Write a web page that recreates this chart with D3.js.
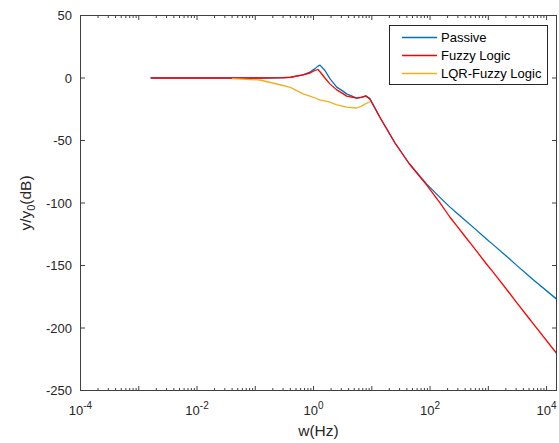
<!DOCTYPE html>
<html>
<head>
<meta charset="utf-8">
<script src="https://cdn.jsdelivr.net/npm/d3@7"></script>
<style>
  html, body { margin: 0; padding: 0; background: #fff; }
  svg { display: block; font-family: "Liberation Sans", Arial, sans-serif; }
</style>
</head>
<body>
<svg id="chart" width="559" height="443"></svg>
<script>
// Frequency grid (Hz) shared by the magnitude responses
const freqs = [0.0016, 0.04, 0.12, 0.3, 0.4, 0.66, 0.87, 1.06, 1.19, 1.29, 1.57, 1.91,
  2.5, 3.2, 3.7, 5.5, 6.7, 7.9, 9.3, 14, 25, 44, 87, 146, 220, 290, 390, 540, 930,
  1180, 2300, 3000, 5100, 5700, 14700];

// Magnitude ratio y/y0 in dB
const passive = [0, 0, 0, 0.2, 0.5, 2.5, 4.7, 7.5, 9.5, 10.3, 6, -0.5,
  -7.3, -10.5, -12.7, -16.1, -15.5, -14.5, -16.5, -32, -52, -68.6, -84.7, -95.3, -103.3, -108.2, -113.4, -119.1, -128.8,
  -132.9, -144.6, -149.5, -158.8, -160.8, -176.7];
const fuzzy = [0, 0, 0, 0.3, 0.6, 2.5, 4, 6, 6.8, 5, 0, -4.7,
  -9.5, -12.5, -14.5, -16.1, -15.3, -14.2, -17, -32, -52, -68.6, -85.5, -99.5, -111.4, -118.5, -126.2, -134.5, -148.8,
  -154.7, -172, -179.1, -192.8, -195.7, -220];
// LQR-Fuzzy response, defined from 0.04 Hz up to where it joins the fuzzy curve
const lqrFreqs = [0.04, 0.12, 0.3, 0.4, 0.66, 0.87, 1.06, 1.29, 1.91, 2.5, 3.7, 5.5, 6.7, 7.9, 9.3];
const lqrFuzzy = [-0.5, -1.6, -6, -7.5, -12.7, -14.5, -16, -17.5, -19.3, -21.5, -23.3, -24, -22.5, -20.5, -19];

const seriesNames = ["Passive", "Fuzzy Logic", "LQR-Fuzzy Logic"];
const seriesColors = ["#0072BD", "#FF0000", "#EDB120"];

const xTickExps = [-4, -2, 0, 2, 4];
const yTicks = [50, 0, -50, -100, -150, -200, -250];

const svg = d3.select("#chart");
const plotLeft = 80.5, plotRight = 556.5, plotTop = 15.5, plotBottom = 390.5;

const x = d3.scaleLog().domain([1e-4, 1.48e4]).range([plotLeft, plotRight]);
const y = d3.scaleLinear().domain([-250, 50]).range([plotBottom, plotTop]);

const axisColor = "#404040";
const textColor = "#262626";

// Plot lines
const line = d3.line().x(d => x(d[0])).y(d => y(d[1]));
const seriesData = [
  d3.zip(freqs, passive),
  d3.zip(freqs, fuzzy),
  d3.zip(lqrFreqs, lqrFuzzy)
];
svg.append("g").selectAll("path")
  .data(seriesData)
  .join("path")
  .attr("fill", "none")
  .attr("stroke", (d, i) => seriesColors[i])
  .attr("stroke-width", 1.3)
  .attr("stroke-linejoin", "round")
  .attr("d", line);

// Minor log ticks (2..9 per decade) and major decade ticks
const minorTicks = [];
const majorTicks = [];
for (let e = -4; e <= 4; e++) {
  majorTicks.push(Math.pow(10, e));
  for (let m = 2; m <= 9; m++) {
    const v = m * Math.pow(10, e);
    if (v <= x.domain()[1]) minorTicks.push(v);
  }
}

const gx = svg.append("g");
function xTickMarks(values, len, yBase, dir) {
  gx.append("g").selectAll("line").data(values).join("line")
    .attr("x1", d => x(d)).attr("x2", d => x(d))
    .attr("y1", yBase).attr("y2", yBase + dir * len)
    .attr("stroke", axisColor);
}
xTickMarks(minorTicks, 2.5, plotBottom, -1);
xTickMarks(minorTicks, 2.5, plotTop, 1);
xTickMarks(majorTicks, 4.5, plotBottom, -1);
xTickMarks(majorTicks, 4.5, plotTop, 1);

// X tick labels as 10^n
const xl = gx.append("g").selectAll("text").data(xTickExps).join("text")
  .attr("x", d => x(Math.pow(10, d)))
  .attr("y", 415)
  .attr("text-anchor", "middle")
  .attr("fill", textColor)
  .attr("font-size", 13);
xl.append("tspan").text("10");
xl.append("tspan").attr("dy", -6.5).attr("font-size", 10).text(d => d < 0 ? "-" + Math.abs(d) : String(d));

// Y ticks on both sides
const gy = svg.append("g");
gy.append("g").selectAll("line").data(yTicks).join("line")
  .attr("x1", plotLeft).attr("x2", plotLeft + 4.5)
  .attr("y1", d => y(d)).attr("y2", d => y(d))
  .attr("stroke", axisColor);
gy.append("g").selectAll("line").data(yTicks).join("line")
  .attr("x1", plotRight).attr("x2", plotRight - 4.5)
  .attr("y1", d => y(d)).attr("y2", d => y(d))
  .attr("stroke", axisColor);
gy.append("g").selectAll("text").data(yTicks).join("text")
  .attr("x", plotLeft - 8.5)
  .attr("y", d => y(d))
  .attr("dy", "0.35em")
  .attr("text-anchor", "end")
  .attr("fill", textColor)
  .attr("font-size", 13)
  .text(d => d);

// Axes box
svg.append("rect")
  .attr("x", plotLeft).attr("y", plotTop)
  .attr("width", plotRight - plotLeft).attr("height", plotBottom - plotTop)
  .attr("fill", "none")
  .attr("stroke", axisColor)
  .attr("stroke-width", 1);

// Axis titles
svg.append("text")
  .attr("x", (plotLeft + plotRight) / 2)
  .attr("y", 436)
  .attr("text-anchor", "middle")
  .attr("fill", textColor)
  .attr("font-size", 15.5)
  .text("w(Hz)");

const yt = svg.append("text")
  .attr("transform", `translate(31, ${(plotTop + plotBottom) / 2}) rotate(-90)`)
  .attr("text-anchor", "middle")
  .attr("fill", textColor)
  .attr("font-size", 15.5);
yt.append("tspan").text("y/y");
yt.append("tspan").attr("dy", 4).attr("font-size", 11).text("0");
yt.append("tspan").attr("dy", -4).text("(dB)");

// Legend
const lg = svg.append("g");
lg.append("rect")
  .attr("x", 389.5).attr("y", 25.5)
  .attr("width", 158).attr("height", 59)
  .attr("fill", "#fff")
  .attr("stroke", "#262626")
  .attr("stroke-width", 1);
const rowsY = [37.5, 55.5, 73.5];
seriesNames.forEach((name, i) => {
  lg.append("line")
    .attr("x1", 402).attr("x2", 437)
    .attr("y1", rowsY[i]).attr("y2", rowsY[i])
    .attr("stroke", seriesColors[i])
    .attr("stroke-width", 1.3);
  lg.append("text")
    .attr("x", 441).attr("y", rowsY[i])
    .attr("dy", "0.35em")
    .attr("fill", "#000")
    .attr("font-size", 13)
    .text(name);
});
</script>
</body>
</html>
